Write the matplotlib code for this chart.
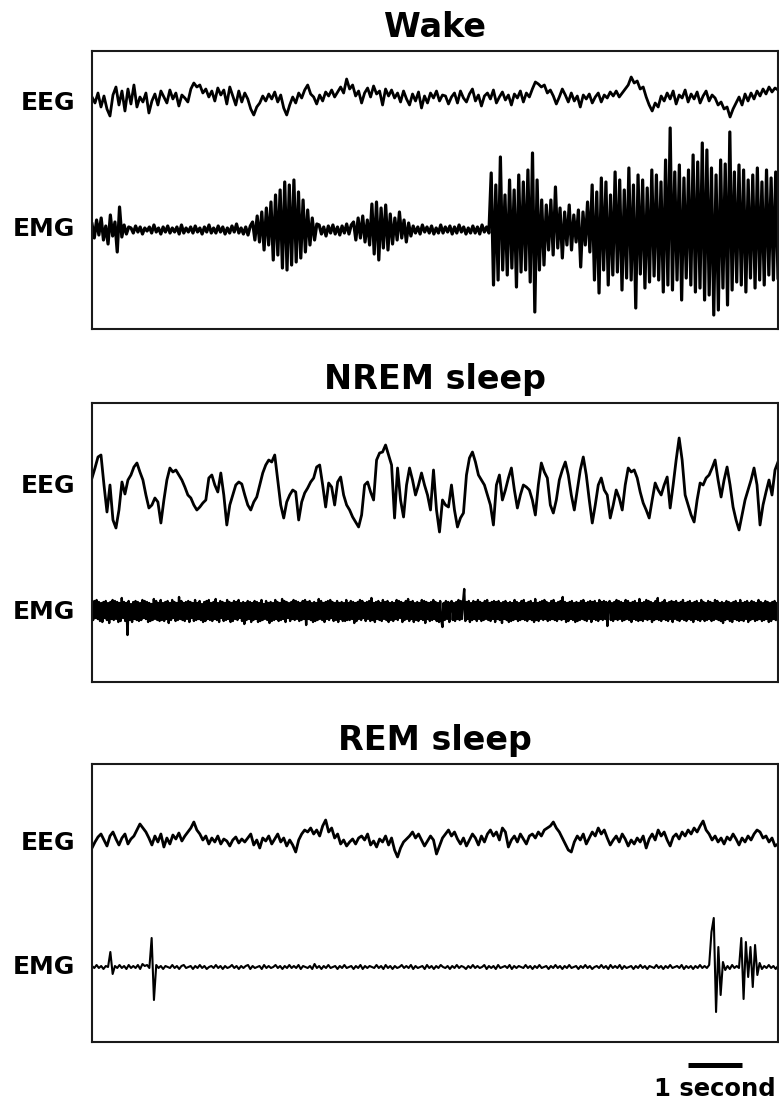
import numpy as np
import matplotlib
matplotlib.use("Agg")
import matplotlib.pyplot as plt

# ---------------- data (amplitudes, arbitrary units ~ pixels, positive = up) ----------------
DURATION = 12.7          # seconds shown in every panel
SCALE_BAR_SEC = 1.0
states = ["Wake", "NREM sleep", "REM sleep"]
channels = ["EEG", "EMG"]

wake_eeg = [
    2, -4, 6, -8, 3, -10, -17, 4, 12, -6, 8, -12, 10, -5, 14, -8, 2, -3, 6, -14,
    -2, 5, -6, 8, 2, -4, 9, 0, 6, -7, 4, 1, -3, 10, 16, 12, 14, 6, 10, 2,
    8, -2, 11, 4, 9, -5, 12, 3, -6, 8, -3, 6, 0, -10, -16, -8, -4, 3, -2, 5,
    0, 7, -3, 4, -9, -16, -6, 2, -4, 6, 1, 9, 14, 5, 2, -5, 4, -2, 7, 3,
    9, 2, 7, 12, 6, 20, 10, 14, 3, 8, -4, 6, 11, 2, 13, 5, 8, -6, 10, 3,
    9, 1, 6, -3, 8, 0, -6, 5, -2, 7, -9, 3, -4, 6, 1, 8, -2, 4, 3, -5,
    2, 6, -4, 8, 1, -3, 5, 10, -2, 4, -7, 3, 6, 0, 9, -4, 2, 7, -1, 4,
    -6, 5, 1, 8, -3, 6, 2, 10, 17, 15, 12, 14, 6, 9, 3, -5, 2, 10, 4, -3,
    6, -2, 3, -8, 4, 0, 5, -4, 2, 6, -3, 4, 1, 7, 3, 8, 2, 6, 10, 14,
    22, 16, 18, 10, 12, 2, -6, -12, -4, -8, 3, -2, 6, 0, 8, -5, 4, 1, 9, -3,
    5, 0, 7, -4, 3, 8, -2, 4, 1, -6, -3, -10, -8, -18, -10, -4, 2, -6, 5, -2,
    6, 0, 8, 3, 10, 5, 12, 7, 11, 9,
]

wake_emg = [
    6, -8, 10, -5, 12, -10, 4, -14, 15, -6, 8, -22, 23, -7, 5, -4, 3,
    2, -3, 4, -2, 3, -4, 2, -1, 3, -3, 5, -2, 2, -4, 3, -2, 4, -3, 2, -2,
    3, -4, 5, -3, 2, -2, 3, -3, 4, -2, 2, -4, 3, -2, 5, -3, 2, -3, 4, -2,
    3, -4, 2, -3, 4, -2, 6, -3, 2, -4, 3, -5, 4,
    8, -10, 14, -12, 18, -20, 22, -15, 28, -30, 35, -25, 40, -38, 48, -40, 45, -35, 50, -32,
    38, -28, 30, -22, 20, -15, 12, -10, 6,
    5, -4, 3, -6, 4, -3, 5, -4, 3, -5, 4, -3, 6, -4, 5,
    8, -10, 12, -8, 14, -12, 10, -15, 26, -24, 28, -30, 22, -18, 25, -20, 16, -14, 12, -10,
    18, -8, 10, -12, 7, -6,
    4, -3, 3, -4, 5, -2, 3, -3, 4, -4, 2, -3, 5, -3, 3, -2, 4, -4, 3, -3,
    5, -2, 3, -4, 2, -3, 4, -3, 3, -4, 5, -2, 3, -3,
    57, -55, 45, -50, 73, -40, 35, -45, 50, -38, 40, -57, 55, -42, 48, -40, 60, -52, 77, -82,
    50, -40, 30, -35,
    25, -20, 30, -25, 43, -18, 22, -28, 18, -15, 25, -20, 15, -12, 20, -37, 18, -15, 28, -22,
    45, -50, 38, -63, 52, -40, 48, -55, 35, -45, 58, -42, 50, -60, 40, -48, 62, -50, 45, -78,
    55, -44, 50, -58, 42, -52, 60, -46, 55, -50, 48, -62, 70, -55, 102, -60, 58, -50, 65, -70,
    52, -48, 60, -55, 75, -62, 68, -58, 87, -70, 80, -65, 62, -85, 55, -80, 70, -58, 66, -75,
    98, -60, 58, -52, 65, -55, 60, -62, 50, -48, 55, -58, 62, -50, 48, -55, 60, -45, 52, -50,
    58, -48,
]

nrem_eeg = [
    12, 22, 33, 35, 5, -22, 5, -30, -38, -20, 8, -4, 10, 15, 23, 27, 18, 10, -5, -18,
    -15, -8, -12, -33, -10, 10, 22, 18, 20, 15, 10, 3, -5, -8, -15, -20, -17, -13, -10, 12,
    15, 5, -2, 17, -5, -35, -15, -5, 5, 8, 6, -5, -15, -20, -12, -7, 5, 17, 25, 30,
    28, 35, 10, -15, -28, -12, -5, 0, -2, -30, -12, -3, 2, 8, 12, 23, 25, 5, -17, 7,
    3, -15, 8, 13, -5, -15, -20, -27, -32, -37, -25, 5, 8, -2, -10, 30, 37, 38, 45, 35,
    25, -28, 22, -10, -27, 5, 22, 10, -5, 5, 17, 5, -5, -20, 20, -20, -42, -10, -15, -17,
    5, -20, -37, -28, -23, 15, 32, 38, 28, 15, 10, 5, -5, -15, -35, 5, 15, -10, 0, 12,
    22, 0, -18, -5, 5, 3, 0, -10, -25, 5, 27, 18, 12, -15, -23, -10, 10, 20, 28, 15,
    -5, -20, 0, 20, 33, 15, -10, -33, -15, 5, 12, 0, -5, -28, -15, 0, -8, -20, 5, 22,
    18, 20, 12, -2, -13, -20, -28, -10, 7, 0, -5, 5, 13, -18, 5, 30, 52, 30, -5, -15,
    -25, -32, -10, 7, 5, 12, 15, 22, 30, 10, -7, 10, 23, 5, -17, -30, -40, -25, -10, 0,
    10, 22, 5, -35, -15, -2, 10, -5, 20, 28,
]

nrem_emg = [
    8, -9, 10, -7, 11, -8, 9, -10, 8, -11, 9, -7, 10, -9, 8, -12, 9, -8, 11, -9,
    10, -8, 9, -11, 8, -10, 13, -7, 9, -10, 8, -24, 10, -9, 7, -11, 9, -8, 10, -9,
    9, -10, 8, -9, 11, -7, 10, -8, 9, -11, 8, -10, 7, -9, 12, -8, 10, -9, 8, -10,
    11, -9, 8, -10, 9, -8, 10, -12, 8, -9, 11, -7, 9, -10, 8, -9, 14, -8, 10, -9,
    8, -10, 9, -8, 10, -11, 9, -7, 8, -10, 11, -9, 8, -8, 10, -9, 7, -11, 9, -10,
    10, -8, 11, -9, 8, -10, 9, -8, 12, -9, 8, -11, 10, -7, 9, -10, 8, -9, 11, -8,
    9, -11, 8, -10, 10, -8, 9, -9, 11, -7, 8, -10, 9, -13, 8, -9, 10, -8, 9, -11,
    8, -9, 10, -8, 9, -11, 8, -10, 11, -9, 7, -8, 10, -9, 8, -12, 9, -10, 8, -9,
    11, -8, 9, -10, 8, -9, 12, -8, 10, -11, 9, -7, 8, -10, 9, -8, 11, -9, 10, -8,
    9, -10, 8, -9, 10, -8, 11, -14, 9, -8, 10, -9, 8, -11, 9, -10, 8, -9, 12, -8,
    10, -9, 8, -11, 9, -8, 10, -9, 11, -7, 9, -10, 8, -9, 10, -11, 8, -8, 9, -10,
    8, -10, 11, -9, 8, -9, 10, -8, 9, -12, 8, -10, 9, -8, 11, -9, 10, -7, 8, -10,
    9, -8, 10, -10, 13, -9, 8, -11, 9, -8, 10, -9, 8, -10, 11, -8, 9, -9, 10, -11,
    8, -9, 9, -10, 8, -8, 11, -9, 10, -7, 9, -11, 8, -9, 10, -8, 12, -10, 9, -8,
    10, -11, 8, -9, 9, -10, 8, -8, 11, -9, 10, -12, 9, -8, 8, -10, 9, -9, 11, -8,
    9, -10, 8, -11, 10, -9, -16, 8, -9, 10, -8, 9, -11, 8, 10, -9, 8, -10, 9, -8,
    11, -9, 10, -8, 9, 22, -10, 9, -8, 10, -11, 8, -9, 10, -8, 9, -10, 11, -8, 9,
    -10, 8, -9, 10, -8, 11, -9, 8, -10, 9, -8, 10, -11, 9, -8, 10, -9, 8, -12, 9,
    -8, 10, -9, 8, -11, 9, -10, 8, -9, 11, -8, 9, -10, 8, -9, 10, -8, 11, -9, 8,
    -10, 9, -8, 10, -9, 8, -11, 12, -9, 8, -10, 9, -8, 10, -9, 11, -8, 9, -10, 8,
    -9, 10, -8, 11, -9, 8, -10, 9, -8, 10, -9, 14, -8, 9, -11, 8, -10, 9, -8, 10,
    -9, 8, -11, 9, -10, 8, -9, 10, -8, 11, -9, 8, -10, 9, -8, 10, -11, 9, -8, 10,
    -9, 8, -10, 11, -8, 9, -9, 10, -8, 9, -15, 8, 10, -9, 8, -10, 9, -8, 11, -9,
    10, -8, 9, -10, 8, -9, 11, -8, 10, -9, 8, -11, 9, -8, 10, -9, 8, -10, 12, -9,
    8, -10, 9, -8, 11, -9, 10, -8, 9, -11, 8, -9, 10, -8, 13, -9, 8, -10, 9, -8,
    11, -9, 8, -10, 9, -8, 10, -11, 9, -8, 10, -9, 8, -10, 9, -8, 11, -9, 8, -10,
    9, -8, 10, -9, 8, -11, 9, -8, 10, -9, 8, -10, 11, -8, 9, -10, 8, -9, 10, -8,
    9, -10, 8, -9, 11, -8, 10, -9, 8, -10, 9, -12, 8, -9, 10, -8, 9, -10, 8, -11,
    9, -8, 10, -9, 8, -10, 11, -9, 8, -10, 9, -8, 10, -11, 8, -9, 10, -8, 9, -10,
    8, -9, 11, -8, 9, -10, 8, -9, 10, -8, 9, -11, 8, -10, 9, -8, 10, -9, 8, -10,
]

rem_eeg = [
    -6, 0, 5, 8, 2, -4, 6, 10, 3, -3, 4, 8, -2, 3, 6, 12, 18, 14, 10, 4,
    -3, 6, 0, 8, -5, 4, -2, 7, 3, 9, 1, 6, 10, 14, 20, 12, 8, 2, 6, -2,
    4, 0, 6, -2, 3, 1, -4, 2, 5, -1, 3, 0, 4, 8, -3, 2, -6, 4, 1, 6,
    -2, 3, 8, 0, 4, -4, 2, -3, -10, 2, 8, 12, 10, 14, 8, 12, 6, 16, 22, 10,
    14, 4, 8, -2, 2, -4, 0, 3, -2, 4, 6, 2, 8, -3, 1, -5, 3, 0, 6, -3,
    4, -8, -15, -6, 0, 3, 6, 10, 4, 8, 2, -4, 1, 6, 2, -12, -4, 4, 8, 12,
    6, 10, 3, -2, 4, -4, 2, 8, 4, -3, 6, 0, 8, 12, 6, 10, 2, 14, 10, -5,
    2, 6, 0, 8, 3, -2, 6, 8, 4, 10, 6, 12, 14, 16, 20, 14, 10, 4, -2, -8,
    -10, 0, 6, 2, 8, -2, 4, 10, 6, 14, 8, 12, 4, -3, 2, 6, 0, 8, 3, -4,
    2, -2, 4, 0, 6, -6, 3, 8, 2, 12, 6, 10, 2, -4, 5, 8, 3, 10, 6, 12,
    8, 14, 10, 16, 21, 12, 8, 2, 6, 0, 4, -2, 5, 2, 8, 3, -3, 4, 0, 6,
    2, 8, 12, 10, 4, 6, 0, 4, -4, -2,
]

rem_emg = [
    1, -1, 2, -1, 1, -2, 1, 0,
    15, -7,
    1, -1, 2, -1, 1, -2, 2, -1, 1, -1, 2, -2, 3, 1, 2, -1,
    29, -33,
    2, -1, 1, -2, 1, 0, -1, 2, -1, 1, -2, 1, 2, -1, 0, 1, -2, 1, -1, 2,
    -1, 1, -2, 0, 1, -1, 2, -1, 1, -2, 1, -1, 0, 2, -1, 1, -2, 1, -1, 1,
    2, -2, 1, -1, 0, 1, -2, 2, -1, 1, -1, 0, 2, -1, 1, -2, 1, -1, 2, -1,
    1, -1, 2, -2, 1, 0, -1, 1, -2, 3, -1, 1, -2, 1, -1, 2, -1, 0, 1, -2,
    1, -1, 2, -1, 0, 1, -2, 1, -1, 2, -2, 1, -1, 1, 0, -1, 2, -1, 1, -2,
    2, -1, 1, -2, 1, -1, 0, 2, -1, 1, -1, 2, -2, 1, -1, 0, 1, -2, 2, -1,
    1, -2, 1, -1, 2, 0, -1, 1, -2, 1, -1, 2, -1, 1, 0, -2, 1, -1, 2, -1,
    1, -1, 0, 2, -2, 1, -1, 1, -2, 2, -1, 0, 1, -1, 2, -2, 1, -1, 1, 0,
    -1, 2, -1, 1, -2, 1, -1, 2, -1, 0, 1, -2, 1, -1, 2, -1, 1, -2, 1, -1,
    2, -1, 0, 1, -2, 1, -1, 2, -1, 1, -2, 0, 1, -1, 2, -1, 1, -2, 2, -1,
    1, -1, 2, -2, 1, -1, 0, 1, -2, 1, -1, 2, -1, 1, -2, 1, 0, -1, 2, -1,
    1, -2, 1, -1, 2, -1, 0, 1, -1, 2, -2, 1, -1, 1, -2, 1, -1, 2, -1, 1,
    -1, 2,
    35, 49, -45, 20, -28, 5, -3,
    1, -2, 2, -1, 1, -1,
    29, -32, 25, -10, 20, -20, 22, -8, 4, -2,
    1, -1, 2, -1, 1, -2, 1,
]

traces = {
    "Wake": (wake_eeg, wake_emg),
    "NREM sleep": (nrem_eeg, nrem_emg),
    "REM sleep": (rem_eeg, rem_emg),
}

# ---------------- layout (pixels of the 779 x 1104 canvas) ----------------
W, H = 779, 1104
LEFT, RIGHT = 92, 778
# top, bottom, eeg baseline, emg baseline, eeg label, emg label, emg line width
layout = {
    "Wake": (51, 329, 99, 230, 103, 229, 2.3),
    "NREM sleep": (403, 682, 490, 611, 486, 612, 1.7),
    "REM sleep": (764, 1042, 842, 967, 843, 967, 1.5),
}

fig = plt.figure(figsize=(W / 100, H / 100), dpi=100)
fig.patch.set_facecolor("white")

for state in states:
    top, bot, eeg_px, emg_px, eeg_lab, emg_lab, emg_lw = layout[state]
    h = bot - top
    ax = fig.add_axes([LEFT / W, 1 - bot / H, (RIGHT - LEFT) / W, h / H])
    ax.set_xlim(0, DURATION)
    ax.set_ylim(0, h)
    ax.set_xticks([])
    ax.set_yticks([])
    for sp in ax.spines.values():
        sp.set_linewidth(1.5)
        sp.set_color("#1a1a1a")

    eeg, emg = traces[state]
    v = np.asarray(eeg, dtype=float)
    t = np.linspace(0, DURATION, len(v))
    ax.plot(t, (bot - eeg_px) + v, color="black", lw=2.0)

    v = np.asarray(emg, dtype=float)
    t = np.linspace(0, DURATION, len(v))
    ax.plot(t, (bot - emg_px) + v, color="black", lw=emg_lw)

    ax.text(0.5, 1 + 14 / h, state, transform=ax.transAxes, ha="center",
            va="baseline", fontsize=24, fontweight="bold")
    ytr = ax.get_yaxis_transform()
    for name, lab in zip(channels, (eeg_lab, emg_lab)):
        ax.text(-17 / (RIGHT - LEFT), bot - lab, name, transform=ytr,
                ha="right", va="center", fontsize=18, fontweight="bold")

    if state == "REM sleep":
        x0 = (688 - LEFT) / (RIGHT - LEFT) * DURATION
        ax.plot([x0, x0 + SCALE_BAR_SEC], [-23, -23], color="black", lw=3.6,
                solid_capstyle="butt", clip_on=False)
        ax.text(x0 + SCALE_BAR_SEC / 2, -47, "1 second", ha="center", va="center",
                fontsize=17.5, fontweight="bold", clip_on=False)

fig.savefig("out.png", dpi=100, facecolor="white")
